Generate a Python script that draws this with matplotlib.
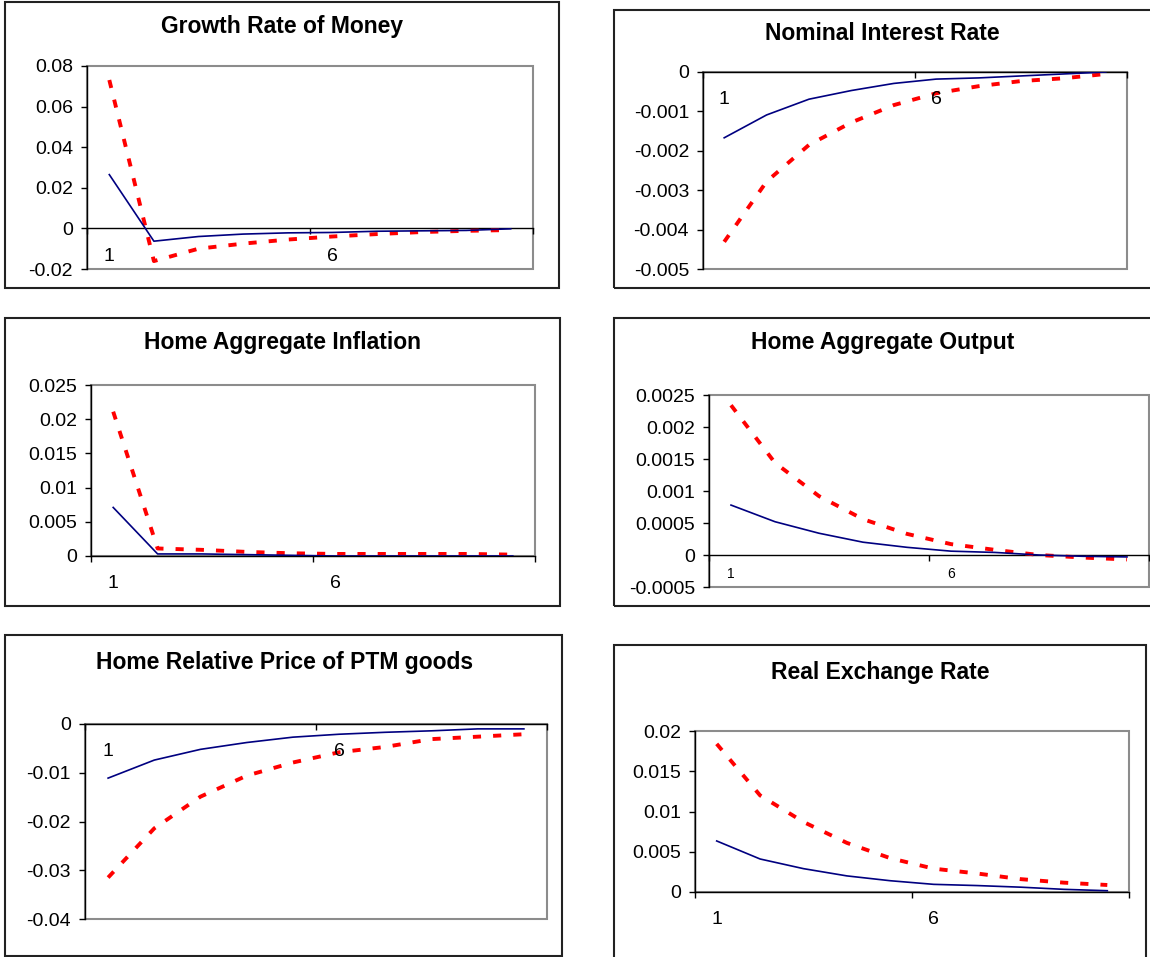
import matplotlib.pyplot as plt
from matplotlib.patches import Rectangle

plt.rcParams['font.family'] = ['Liberation Sans', 'DejaVu Sans']

W, H = 1150, 957

periods = list(range(1, 11))
shown_periods = [1, 6]

# impulse responses, solid = first scenario, dashed = second scenario
money_solid = [0.0265, -0.0063, -0.0040, -0.0028, -0.0022, -0.0020, -0.0014, -0.0012, -0.0010, -0.0002]
money_dashed = [0.0731, -0.0161, -0.0100, -0.0075, -0.0055, -0.0040, -0.0028, -0.0018, -0.0012, -0.0008]

rate_solid = [-0.00167, -0.00109, -0.00069, -0.00047, -0.00029, -0.00018, -0.00015, -0.00010, -0.00005, 0.0]
rate_dashed = [-0.00431, -0.00278, -0.00185, -0.00128, -0.00084, -0.00054, -0.00036, -0.00023, -0.00016, -0.00005]

infl_solid = [0.0071, 0.0003, 0.0003, 0.0002, 0.0001, 0.0, 0.0, 0.0, 0.0, 0.0]
infl_dashed = [0.0211, 0.0011, 0.0009, 0.0006, 0.0004, 0.0003, 0.0003, 0.0003, 0.0003, 0.0002]

output_solid = [0.00078, 0.00052, 0.00034, 0.00020, 0.00012, 0.00006, 0.00004, 0.0, -0.00002, -0.00003]
output_dashed = [0.00234, 0.00144, 0.00092, 0.00056, 0.00033, 0.00017, 0.00008, 0.0, -0.00004, -0.00007]

ptm_solid = [-0.0111, -0.0074, -0.0052, -0.0038, -0.0027, -0.0021, -0.0017, -0.0014, -0.0010, -0.0010]
ptm_dashed = [-0.0315, -0.0214, -0.0149, -0.0106, -0.0079, -0.0058, -0.0047, -0.0031, -0.0026, -0.0021]

rer_solid = [0.00634, 0.0041, 0.0029, 0.0020, 0.0014, 0.00095, 0.0008, 0.0006, 0.00033, 0.00016]
rer_dashed = [0.0184, 0.0120, 0.0087, 0.0061, 0.0042, 0.0029, 0.0023, 0.0016, 0.00116, 0.00087]

money_ticks = [-0.02, 0, 0.02, 0.04, 0.06, 0.08]
rate_ticks = [-0.005, -0.004, -0.003, -0.002, -0.001, 0]
infl_ticks = [0, 0.005, 0.01, 0.015, 0.02, 0.025]
output_ticks = [-0.0005, 0, 0.0005, 0.001, 0.0015, 0.002, 0.0025]
ptm_ticks = [-0.04, -0.03, -0.02, -0.01, 0]
rer_ticks = [0, 0.005, 0.01, 0.015, 0.02]

fig = plt.figure(figsize=(W / 100, H / 100), dpi=100)


def px_rect(x0, y0, x1, y1):
    return [x0 / W, 1 - y1 / H, (x1 - x0) / W, (y1 - y0) / H]


def draw_panel(box, area, title, title_xy, solid, dashed, yticks,
               cat_size=14, cat_offset=20):
    r = px_rect(*box)
    fig.add_artist(Rectangle((r[0], r[1]), r[2], r[3], transform=fig.transFigure,
                             fill=False, ec='#222222', lw=1.5))
    fig.text(title_xy[0] / W, 1 - title_xy[1] / H, title, ha='center', va='center',
             fontsize=16.5, fontweight='bold')

    ax = fig.add_axes(px_rect(*area))
    ax.add_patch(Rectangle((0, 0), 1, 1, transform=ax.transAxes, fill=False,
                           ec='#8c8c8c', lw=1.5, clip_on=False, zorder=0))
    ax.plot(periods, dashed, color='red', lw=2.8, dashes=(2.1, 3.1), zorder=3)
    ax.plot(periods, solid, color='#000080', lw=1.2, zorder=4)

    ax.set_xlim(0.5, 10.5)
    ax.set_ylim(yticks[0], yticks[-1])
    for s in ['top', 'right']:
        ax.spines[s].set_visible(False)
    ax.spines['left'].set_color('black')
    ax.spines['left'].set_linewidth(1)
    ax.spines['bottom'].set_position(('data', 0))
    ax.spines['bottom'].set_color('black')
    ax.spines['bottom'].set_linewidth(1)

    ax.set_xticks([0.5, 5.5, 10.5])
    ax.set_xticklabels([])
    ax.tick_params(axis='x', direction='out', length=4, width=1)
    ax.set_yticks(yticks)
    ax.set_yticklabels(['%g' % t for t in yticks])
    ax.tick_params(axis='y', direction='out', length=4, width=1, pad=6, labelsize=14)

    for p in shown_periods:
        ax.annotate(str(p), xy=(p, 0), xycoords='data', xytext=(0, -cat_offset),
                    textcoords='offset points', ha='center', va='center',
                    fontsize=cat_size)
    return ax


draw_panel((5, 2, 559, 288), (87, 66, 533, 269), 'Growth Rate of Money', (282, 26),
           money_solid, money_dashed, money_ticks)
draw_panel((614, 10, 1160, 288), (703, 72, 1127, 269), 'Nominal Interest Rate', (882, 33),
           rate_solid, rate_dashed, rate_ticks)
draw_panel((5, 318, 560, 606), (91, 385, 535, 556), 'Home Aggregate Inflation', (283, 343),
           infl_solid, infl_dashed, infl_ticks)
draw_panel((614, 318, 1160, 606), (709, 395, 1149, 587), 'Home Aggregate Output', (883, 342),
           output_solid, output_dashed, output_ticks, cat_size=10, cat_offset=13.7)
draw_panel((5, 635, 562, 956), (85, 724, 547, 919), 'Home Relative Price of PTM goods', (285, 663),
           ptm_solid, ptm_dashed, ptm_ticks)
draw_panel((614, 645, 1146, 970), (695, 731, 1129, 892), 'Real Exchange Rate', (880, 672),
           rer_solid, rer_dashed, rer_ticks)

fig.savefig('out.png', dpi=100)
